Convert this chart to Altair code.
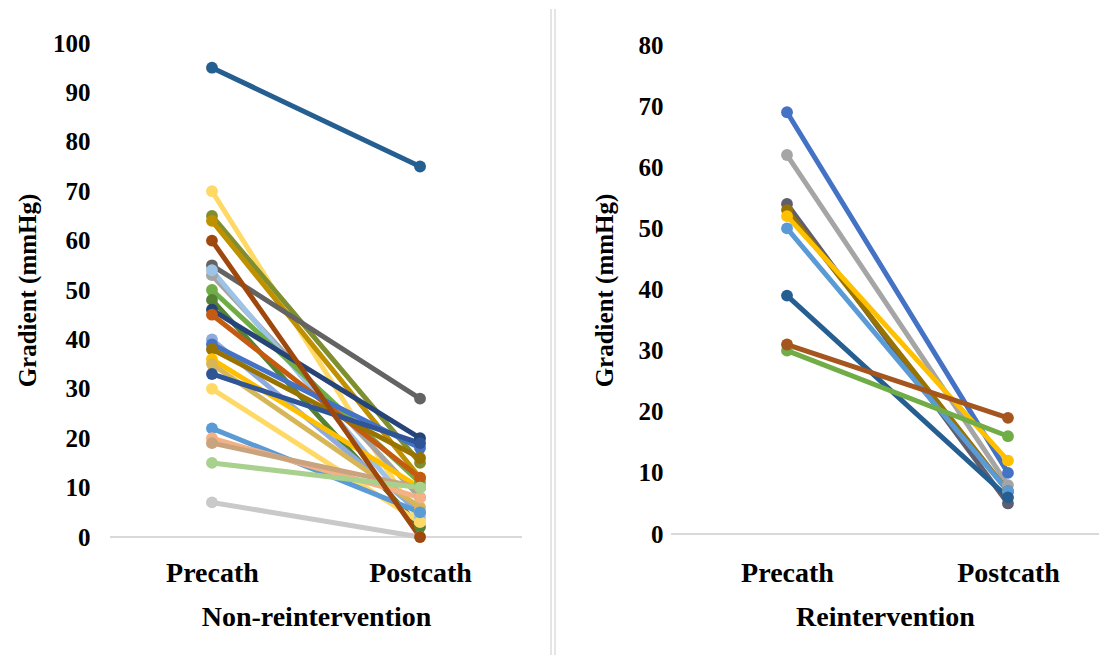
import altair as alt
import pandas as pd

STAGES = ["Precath", "Postcath"]

# Non-reintervention panel: gradient before and after catheterisation (mmHg)
left_pre = [95, 70, 65, 64, 55, 53, 54, 50, 48, 46, 45, 40, 39, 38, 36, 35, 33, 30, 22, 20, 19, 15, 7, 60]
left_post = [75, 3, 15, 12, 28, 8, 4, 11, 2, 20, 12, 5, 18, 16, 10, 6, 19, 3, 5, 8, 10, 10, 0, 0]
left_colors = ["#255E91", "#FFD966", "#7F8F2F", "#BF9000", "#636363", "#A5A5A5", "#9DC3E6",
               "#70AD47", "#548235", "#264478", "#C55A11", "#8FAADC", "#4472C4", "#997300", "#FFC000",
               "#D6B656", "#2F5597", "#FFD966", "#5B9BD5", "#F4B183", "#C9A27E", "#A9D18E", "#C9C9C9",
               "#9E480E"]

# Reintervention panel
right_pre = [69, 62, 54, 53, 52, 50, 39, 30, 31]
right_post = [10, 8, 5, 7, 12, 7, 6, 16, 19]
right_colors = ["#4472C4", "#A5A5A5", "#5E5E6E", "#997300", "#FFC000", "#5B9BD5", "#255E91", "#70AD47", "#A5561E"]

left_ticks = [0, 10, 20, 30, 40, 50, 60, 70, 80, 90, 100]
right_ticks = [0, 10, 20, 30, 40, 50, 60, 70, 80]

FONT = "Liberation Serif"
H = 494


def make_df(pre, post):
    rows = []
    for i, (a, b) in enumerate(zip(pre, post)):
        sid = f"s{i:02d}"
        rows.append({"s": sid, "x": 0, "stage": STAGES[0], "v": a})
        rows.append({"s": sid, "x": 1, "stage": STAGES[1], "v": b})
    return pd.DataFrame(rows)


def panel(pre, post, colors, width, xdom, ydom, yticks, xtitle, lab_pad, title_pad, sep=False):
    df = make_df(pre, post)
    ids = [f"s{i:02d}" for i in range(len(pre))]
    x = alt.X("x:Q", scale=alt.Scale(domain=xdom, nice=False, zero=False),
              axis=alt.Axis(values=[0, 1],
                            labelExpr="datum.value == 0 ? 'Precath' : 'Postcath'",
                            ticks=False, grid=False, domain=False, title=xtitle,
                            labelFontSize=28, titleFontSize=28, labelPadding=22, titlePadding=16))
    y = alt.Y("v:Q", scale=alt.Scale(domain=ydom, nice=False, zero=False),
              axis=alt.Axis(values=yticks, ticks=False, grid=False, domain=False,
                            title="Gradient (mmHg)", labelFontSize=25, titleFontSize=25,
                            labelPadding=lab_pad, titlePadding=title_pad))
    color = alt.Color("s:N", scale=alt.Scale(domain=ids, range=colors), legend=None)

    base = alt.Chart(df).encode(x=x, y=y, color=color)
    lines = base.mark_line(strokeWidth=5, strokeCap="round")
    pts = base.mark_point(filled=True, size=140, opacity=1)

    axis_line = alt.Chart(pd.DataFrame({"v": [0]})).mark_rule(color="#D9D9D9", strokeWidth=2).encode(
        y=alt.Y("v:Q"), x=alt.value(0), x2=alt.value(width))

    layers = [axis_line, lines, pts]
    if sep:
        for xv in (-120, -116):
            layers.append(alt.Chart(pd.DataFrame({"k": [0]})).mark_rule(color="#D4D4D4", strokeWidth=1.2).encode(
                x=alt.value(xv), y=alt.value(-34), y2=alt.value(612)))
    return alt.layer(*layers).properties(width=width, height=H)


left = panel(left_pre, left_post, left_colors, 412, [-0.49, 1.49], [0, 100], left_ticks,
             "Non-reintervention", 20, 12)
right = panel(right_pre, right_post, right_colors, 428, [-0.525, 1.412], [-0.49, 80.33], right_ticks,
              "Reintervention", 8, 21, sep=True)

chart = alt.hconcat(left, right, spacing=149, bounds="flush").resolve_scale(
    color="independent", y="independent", x="independent"
).properties(
    padding={"left": 7, "top": 0, "right": 0, "bottom": 0}
).configure_view(stroke=None).configure_axis(
    labelFont=FONT, titleFont=FONT, labelFontWeight="bold", titleFontWeight="bold",
    labelColor="#000000", titleColor="#000000"
)

chart.save("out.html", embed_options={"renderer": "svg", "actions": False})
